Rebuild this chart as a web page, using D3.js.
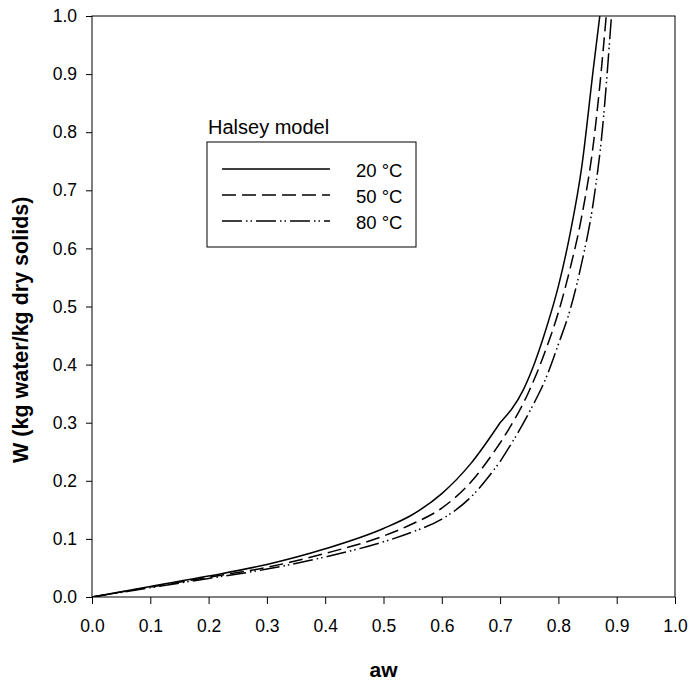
<!DOCTYPE html>
<html><head><meta charset="utf-8">
<script src="https://cdn.jsdelivr.net/npm/d3@7"></script>
<style>
html,body{margin:0;padding:0;background:#fff;}
text{font-family:"Liberation Sans",Arial,Helvetica,sans-serif;fill:#000;}
</style></head>
<body><svg id="chart" width="697" height="682"></svg>
<script>
// Data (Halsey model sorption isotherms)
const awSolid = [0, 0.1, 0.2, 0.3, 0.4, 0.5, 0.55, 0.6, 0.65, 0.7, 0.74, 0.76, 0.78, 0.8, 0.82, 0.84, 0.86, 0.871];
const wSolid  = [0, 0.018, 0.036, 0.056, 0.083, 0.118, 0.142, 0.178, 0.230, 0.300, 0.357, 0.405, 0.465, 0.535, 0.625, 0.74, 0.91, 1.0];
const awDashed = [0, 0.1, 0.2, 0.3, 0.4, 0.5, 0.55, 0.6, 0.65, 0.7, 0.75, 0.78, 0.8, 0.82, 0.84, 0.86, 0.87, 0.882];
const wDashed  = [0, 0.017, 0.034, 0.051, 0.075, 0.105, 0.126, 0.153, 0.198, 0.265, 0.355, 0.43, 0.49, 0.565, 0.655, 0.78, 0.87, 1.0];
const awDashDot = [0, 0.1, 0.2, 0.3, 0.4, 0.5, 0.55, 0.6, 0.65, 0.7, 0.75, 0.78, 0.8, 0.82, 0.84, 0.86, 0.875, 0.891];
const wDashDot  = [0, 0.016, 0.032, 0.048, 0.069, 0.095, 0.112, 0.134, 0.172, 0.233, 0.318, 0.38, 0.435, 0.494, 0.575, 0.68, 0.80, 1.0];
const seriesLabels = ["20 \u00B0C", "50 \u00B0C", "80 \u00B0C"];
const xTicks = [0, 0.1, 0.2, 0.3, 0.4, 0.5, 0.6, 0.7, 0.8, 0.9, 1.0];
const yTicks = [0, 0.1, 0.2, 0.3, 0.4, 0.5, 0.6, 0.7, 0.8, 0.9, 1.0];
const legendTitle = "Halsey model";
const xTitle = "aw";
const yTitle = "W (kg water/kg dry solids)";

const dashes = ["none", "14,6", "20,4,1.5,3,1.5,4"];
const series = [
  {aw: awSolid, w: wSolid},
  {aw: awDashed, w: wDashed},
  {aw: awDashDot, w: wDashDot}
].map((s, i) => ({label: seriesLabels[i], dash: dashes[i], pts: s.aw.map((a, j) => [a, s.w[j]])}));

const svg = d3.select("#chart");
const m = {left: 92, top: 16, right: 22, bottom: 85};
const W = 697, H = 682;
const x = d3.scaleLinear().domain([0, 1]).range([m.left, W - m.right]);
const y = d3.scaleLinear().domain([0, 1]).range([H - m.bottom, m.top]);

svg.append("defs").append("clipPath").attr("id", "clip")
  .append("rect").attr("x", x(0)).attr("y", y(1)).attr("width", x(1) - x(0)).attr("height", y(0) - y(1));

// smooth pieces joined at aw = 0.7 (visible kink in the original)
const line = d3.line().x(d => x(d[0])).y(d => y(d[1])).curve(d3.curveMonotoneX);
function pathFor(pts) {
  const a = pts.filter(p => p[0] <= 0.7), b = pts.filter(p => p[0] >= 0.7);
  return line(a) + line(b).replace(/^M/, "L");
}
svg.append("g").attr("clip-path", "url(#clip)").selectAll("path").data(series).join("path")
  .attr("d", d => pathFor(d.pts)).attr("fill", "none").attr("stroke", "#000")
  .attr("stroke-width", 1.5).attr("stroke-dasharray", d => d.dash);

// frame
svg.append("rect").attr("x", x(0)).attr("y", y(1)).attr("width", x(1) - x(0)).attr("height", y(0) - y(1))
  .attr("fill", "none").attr("stroke", "#000").attr("stroke-width", 1);

const fmt = d3.format(".1f");
const xAxis = svg.append("g").attr("transform", `translate(0,${y(0)})`)
  .call(d3.axisBottom(x).tickValues(xTicks).tickFormat(fmt).tickSize(7).tickPadding(16));
const yAxis = svg.append("g").attr("transform", `translate(${x(0)},0)`)
  .call(d3.axisLeft(y).tickValues(yTicks).tickFormat(fmt).tickSize(6).tickPadding(9));
[xAxis, yAxis].forEach(g => {
  g.select(".domain").remove();
  g.selectAll("line").attr("stroke", "#000");
  g.selectAll("text").attr("font-size", 17.5).attr("font-family", "Liberation Sans, Arial, sans-serif").attr("fill", "#000");
});

svg.append("text").attr("x", (x(0) + x(1)) / 2).attr("y", 677).attr("text-anchor", "middle")
  .attr("font-size", 21).attr("font-weight", "bold").text(xTitle);
svg.append("text").attr("transform", `translate(28,463) rotate(-90)`).attr("text-anchor", "start")
  .attr("font-size", 21.5).attr("font-weight", "bold").text(yTitle);

// legend
const lg = svg.append("g");
lg.append("text").attr("x", 208).attr("y", 134).attr("font-size", 20).text(legendTitle);
lg.append("rect").attr("x", 207).attr("y", 142).attr("width", 209).attr("height", 105)
  .attr("fill", "#fff").attr("stroke", "#000").attr("stroke-width", 1);
const items = lg.selectAll("g.item").data(series).join("g").attr("class", "item")
  .attr("transform", (d, i) => `translate(0,${169 + i * 26})`);
items.append("line").attr("x1", 222).attr("x2", 330).attr("y1", 0).attr("y2", 0)
  .attr("stroke", "#000").attr("stroke-width", 1.5).attr("stroke-dasharray", d => d.dash);
items.append("text").attr("x", 356).attr("y", 8).attr("font-size", 18.5).text(d => d.label);
</script></body></html>
